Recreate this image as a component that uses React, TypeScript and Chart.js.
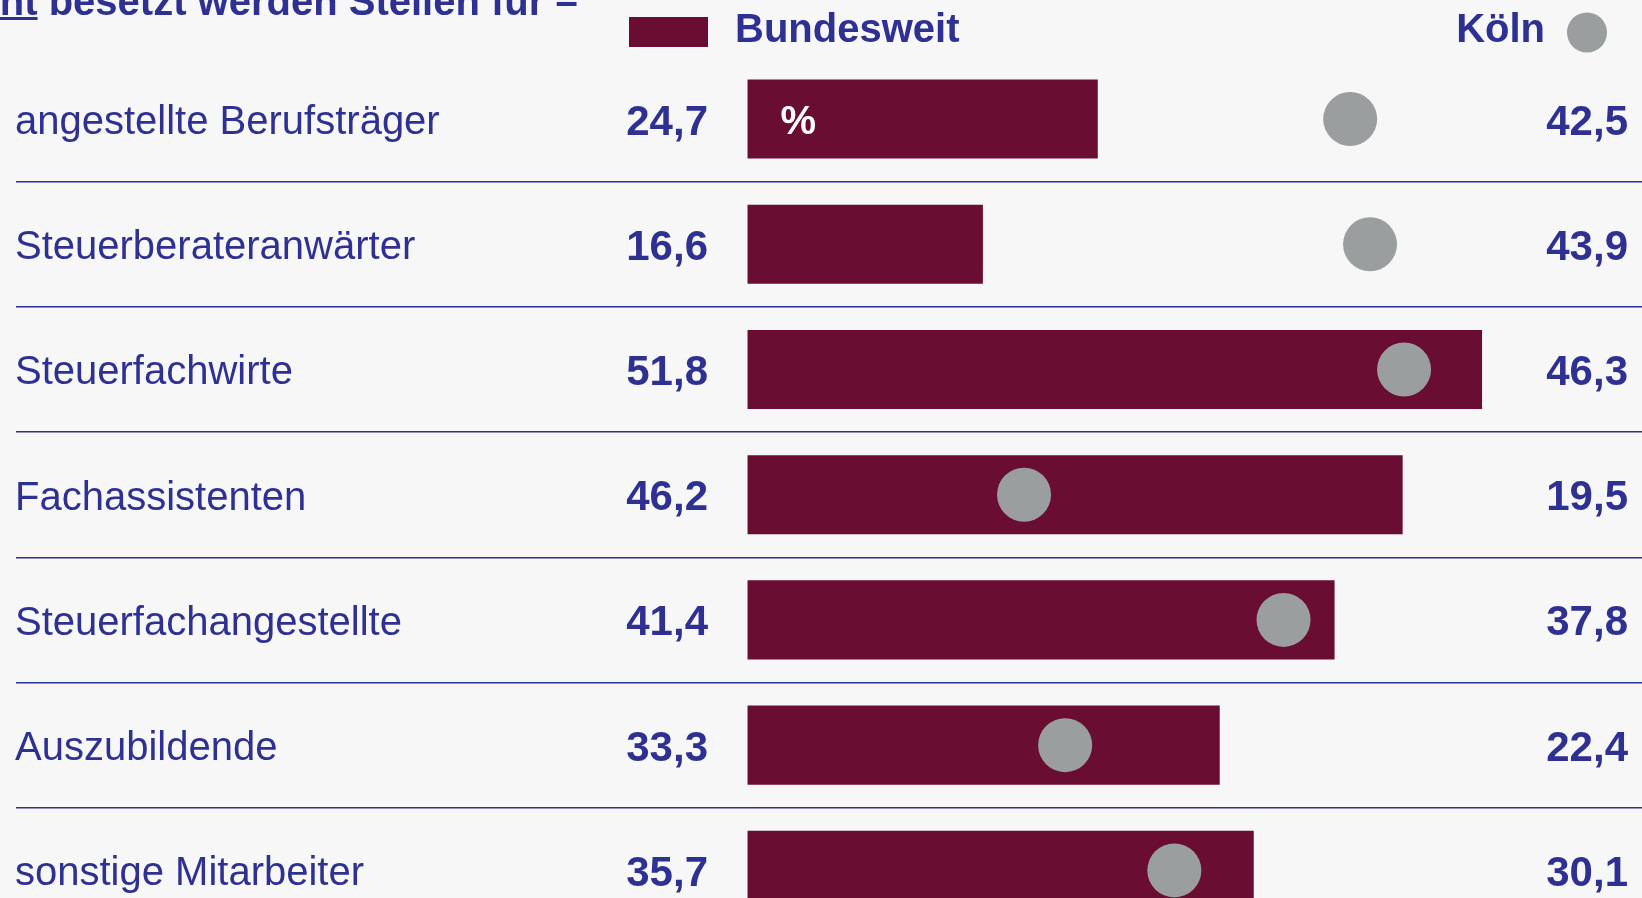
import React, { useEffect, useRef } from "react";
import { Chart, registerables } from "chart.js";

Chart.register(...registerables);

const categories = [
  "angestellte Berufsträger",
  "Steuerberateranwärter",
  "Steuerfachwirte",
  "Fachassistenten",
  "Steuerfachangestellte",
  "Auszubildende",
  "sonstige Mitarbeiter",
];
const bundesweit = [24.7, 16.6, 51.8, 46.2, 41.4, 33.3, 35.7];
const koeln = [42.5, 43.9, 46.3, 19.5, 37.8, 22.4, 30.1];
const seriesNames = ["Bundesweit", "Köln"];
const titleText = "nicht besetzt werden Stellen für –";
const underlinedWord = "nicht";

const BLUE = "#2e3192";
const MAROON = "#690e32";
const GREY = "#9b9e9e";
const BG = "#f7f7f7";
const FONT = '"Liberation Sans", Arial, Helvetica, sans-serif';

const fmt = (v: number) => v.toFixed(1).replace(".", ",");

const textPlugin = {
  id: "textPlugin",
  beforeDraw(chart: any) {
    const ctx = chart.ctx;
    ctx.save();
    ctx.fillStyle = BG;
    ctx.fillRect(0, 0, chart.width, chart.height);
    ctx.restore();
  },
  afterDatasetsDraw(chart: any) {
    const ctx = chart.ctx;
    const yScale = chart.scales.y;
    const xScale = chart.scales.x;
    ctx.save();
    ctx.fillStyle = BLUE;
    ctx.textBaseline = "alphabetic";

    // title (cut at top-left)
    ctx.font = `bold 40px ${FONT}`;
    ctx.textAlign = "left";
    const tx = -58;
    ctx.fillText(titleText, tx, 15);
    const uw = ctx.measureText(underlinedWord).width;
    ctx.fillRect(tx, 17, uw, 3);

    // legend
    ctx.fillStyle = MAROON;
    ctx.fillRect(629, 17, 79, 30);
    ctx.fillStyle = BLUE;
    ctx.font = `bold 40px ${FONT}`;
    ctx.textAlign = "left";
    ctx.fillText(seriesNames[0], 735, 42);
    ctx.textAlign = "right";
    ctx.fillText(seriesNames[1], 1545, 42);
    ctx.fillStyle = GREY;
    ctx.beginPath();
    ctx.arc(1587, 32.5, 20, 0, Math.PI * 2);
    ctx.fill();

    categories.forEach((cat, i) => {
      const cy = yScale.getPixelForValue(i);
      ctx.fillStyle = BLUE;
      ctx.font = `40px ${FONT}`;
      ctx.textAlign = "left";
      ctx.fillText(cat, 15, cy + 15);
      ctx.font = `bold 42px ${FONT}`;
      ctx.textAlign = "right";
      ctx.fillText(fmt(bundesweit[i]), 708, cy + 15.5);
      ctx.fillText(fmt(koeln[i]), 1628, cy + 15.5);
    });

    // percent sign in first bar
    const cy0 = yScale.getPixelForValue(0);
    ctx.fillStyle = "#ffffff";
    ctx.font = `bold 40px ${FONT}`;
    ctx.textAlign = "left";
    ctx.fillText("%", xScale.getPixelForValue(0) + 33, cy0 + 15);
    ctx.restore();
  },
};

export default function App() {
  const ref = useRef<HTMLCanvasElement | null>(null);

  useEffect(() => {
    document.body.style.margin = "0";
    document.body.style.background = BG;
    const canvas = ref.current!;
    const chart = new Chart(canvas, {
      type: "bar",
      data: {
        labels: categories,
        datasets: [
          {
            type: "line",
            label: seriesNames[1],
            data: koeln,
            indexAxis: "y",
            showLine: false,
            pointRadius: 27,
            pointHoverRadius: 27,
            pointBackgroundColor: GREY,
            pointBorderWidth: 0,
            borderColor: GREY,
            backgroundColor: GREY,
            order: 0,
            clip: false,
          } as any,
          {
            type: "bar",
            label: seriesNames[0],
            data: bundesweit,
            indexAxis: "y",
            backgroundColor: MAROON,
            borderWidth: 0,
            categoryPercentage: 1,
            barPercentage: 0.632,
            order: 1,
          } as any,
        ],
      },
      options: {
        indexAxis: "y",
        responsive: false,
        animation: false,
        devicePixelRatio: 1,
        layout: {
          autoPadding: false,
          padding: { left: 15.7, right: 0, top: 56.4, bottom: 0 },
        },
        plugins: {
          legend: { display: false },
          tooltip: { enabled: false },
        },
        events: [],
        scales: {
          x: {
            type: "linear",
            display: false,
            min: -51.61,
            max: 63.08,
          },
          y: {
            type: "category",
            display: true,
            offset: true,
            ticks: { display: false },
            border: { display: false },
            grid: {
              offset: true,
              drawTicks: false,
              lineWidth: 1.5,
              color: (c: any) => (c.index === 0 ? "rgba(0,0,0,0)" : BLUE),
            },
          },
        },
      } as any,
      plugins: [textPlugin],
    });
    return () => chart.destroy();
  }, []);

  return (
    <div
      style={{
        position: "fixed",
        left: 0,
        top: 0,
        width: 1642,
        height: 898,
        overflow: "hidden",
        background: BG,
      }}
    >
      <canvas ref={ref} width={1642} height={933} style={{ display: "block" }} />
    </div>
  );
}
